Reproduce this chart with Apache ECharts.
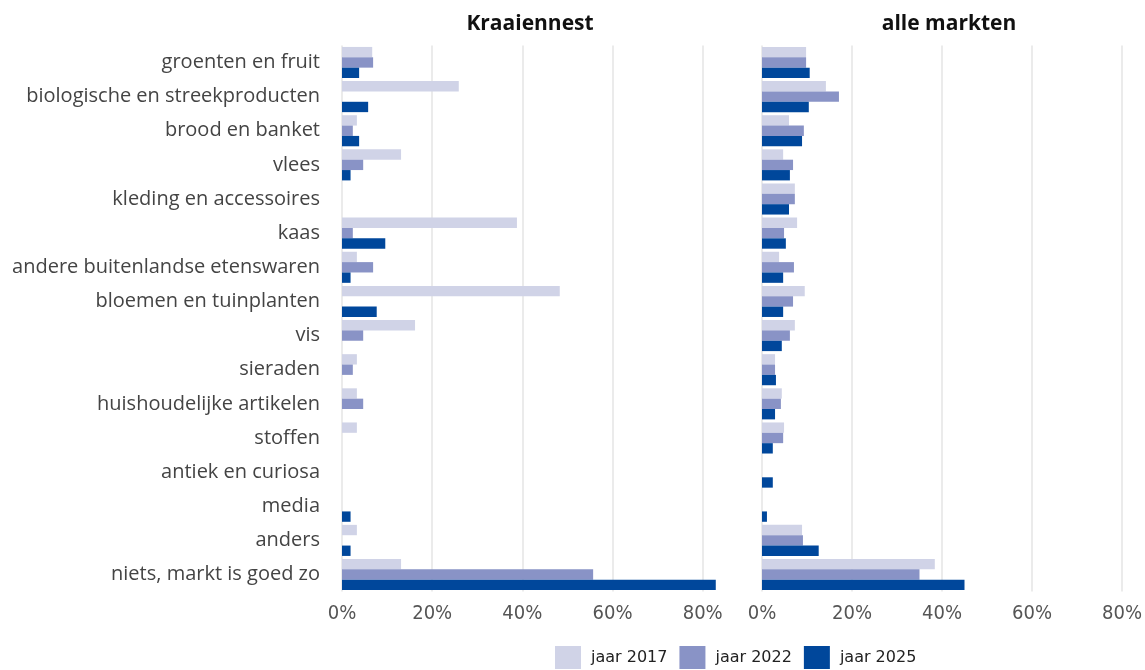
<!DOCTYPE html>
<html>
<head>
<meta charset="utf-8">
<script src="https://cdn.jsdelivr.net/npm/echarts@6/dist/echarts.min.js"></script>
<style>
  html, body { margin: 0; padding: 0; background: #fff; }
  #main { width: 1145px; height: 670px; }
</style>
</head>
<body>
<div id="main"></div>
<script>
// categorieen, van boven naar beneden
var categories = [
  'groenten en fruit', 'biologische en streekproducten', 'brood en banket', 'vlees',
  'kleding en accessoires', 'kaas', 'andere buitenlandse etenswaren', 'bloemen en tuinplanten',
  'vis', 'sieraden', 'huishoudelijke artikelen', 'stoffen', 'antiek en curiosa', 'media',
  'anders', 'niets, markt is goed zo'
];
var years = ['jaar 2017', 'jaar 2022', 'jaar 2025'];
var xTicks = [0, 20, 40, 60, 80];

// Kraaiennest (%)
var kraai2017 = [6.7, 25.9, 3.3, 13.1, null, 38.8, 3.3, 48.3, 16.2, 3.3, 3.3, 3.3, null, null, 3.3, 13.1];
var kraai2022 = [6.9, null, 2.4, 4.7, null, 2.4, 6.9, null, 4.7, 2.4, 4.7, null, null, null, null, 55.7];
var kraai2025 = [3.8, 5.8, 3.8, 1.9, null, 9.6, 1.9, 7.7, null, null, null, null, null, 1.9, 1.9, 82.9];

// alle markten (%)
var alle2017 = [9.8, 14.2, 6.0, 4.7, 7.3, 7.8, 3.8, 9.5, 7.3, 2.9, 4.4, 4.9, null, null, 8.9, 38.4];
var alle2022 = [9.8, 17.1, 9.3, 6.9, 7.3, 4.9, 7.1, 6.9, 6.2, 2.9, 4.2, 4.7, null, null, 9.1, 35.0];
var alle2025 = [10.6, 10.4, 8.9, 6.2, 6.0, 5.3, 4.7, 4.7, 4.4, 3.1, 2.9, 2.4, 2.4, 1.1, 12.6, 45.0];

var colors = ['#d0d3e7', '#8993c6', '#00479b'];
var labelFont = '"Open Sans", Lato, sans-serif';

var myChart = echarts.init(document.getElementById('main'));

function xAxis(idx) {
  return {
    type: 'value', gridIndex: idx, min: xTicks[0], max: xTicks[xTicks.length - 1], interval: 20,
    axisLine: { show: false }, axisTick: { show: false },
    axisLabel: {
      formatter: '{value}%', color: '#555', fontSize: 20, margin: 12,
      fontFamily: '"Liberation Sans Narrow", "DejaVu Sans Condensed", Roboto, sans-serif'
    },
    splitLine: { lineStyle: { color: '#e5e5e5', width: 1.5 } }
  };
}
function yAxis(idx, showLabels) {
  return {
    type: 'category', gridIndex: idx, data: categories, inverse: true,
    axisLine: { show: false }, axisTick: { show: false },
    axisLabel: { show: showLabels, color: '#444', fontSize: 20, margin: 22, fontFamily: labelFont, padding: [3, 0, 0, 0] }
  };
}
function barSeries(name, data, idx, color) {
  return {
    name: name, type: 'bar', data: data, xAxisIndex: idx, yAxisIndex: idx,
    barGap: '0%', barCategoryGap: '9%', clip: false,
    itemStyle: { color: color }
  };
}

var option = {
  animation: false,
  grid: [
    { left: 342, width: 360.7, top: 45.4, height: 546.2 },
    { left: 762, width: 360.7, top: 45.4, height: 546.2 }
  ],
  xAxis: [xAxis(0), xAxis(1)],
  yAxis: [yAxis(0, true), yAxis(1, false)],
  legend: {
    data: years, left: 550, top: 641, itemWidth: 26, itemHeight: 23, itemGap: 12,
    icon: 'rect',
    textStyle: { color: '#222', fontSize: 16, fontFamily: '"DejaVu Sans", sans-serif', padding: [0, 0, 0, 5] }
  },
  graphic: [
    { type: 'text', x: 530, y: 24, style: { text: 'Kraaiennest', fill: '#111', font: 'bold 21px ' + labelFont, textAlign: 'center', textVerticalAlign: 'middle' } },
    { type: 'text', x: 949, y: 24, style: { text: 'alle markten', fill: '#111', font: 'bold 21px ' + labelFont, textAlign: 'center', textVerticalAlign: 'middle' } }
  ],
  series: [
    barSeries(years[0], kraai2017, 0, colors[0]),
    barSeries(years[1], kraai2022, 0, colors[1]),
    barSeries(years[2], kraai2025, 0, colors[2]),
    barSeries(years[0], alle2017, 1, colors[0]),
    barSeries(years[1], alle2022, 1, colors[1]),
    barSeries(years[2], alle2025, 1, colors[2])
  ]
};
// 绘制图表
myChart.setOption(option);
</script>
</body>
</html>
